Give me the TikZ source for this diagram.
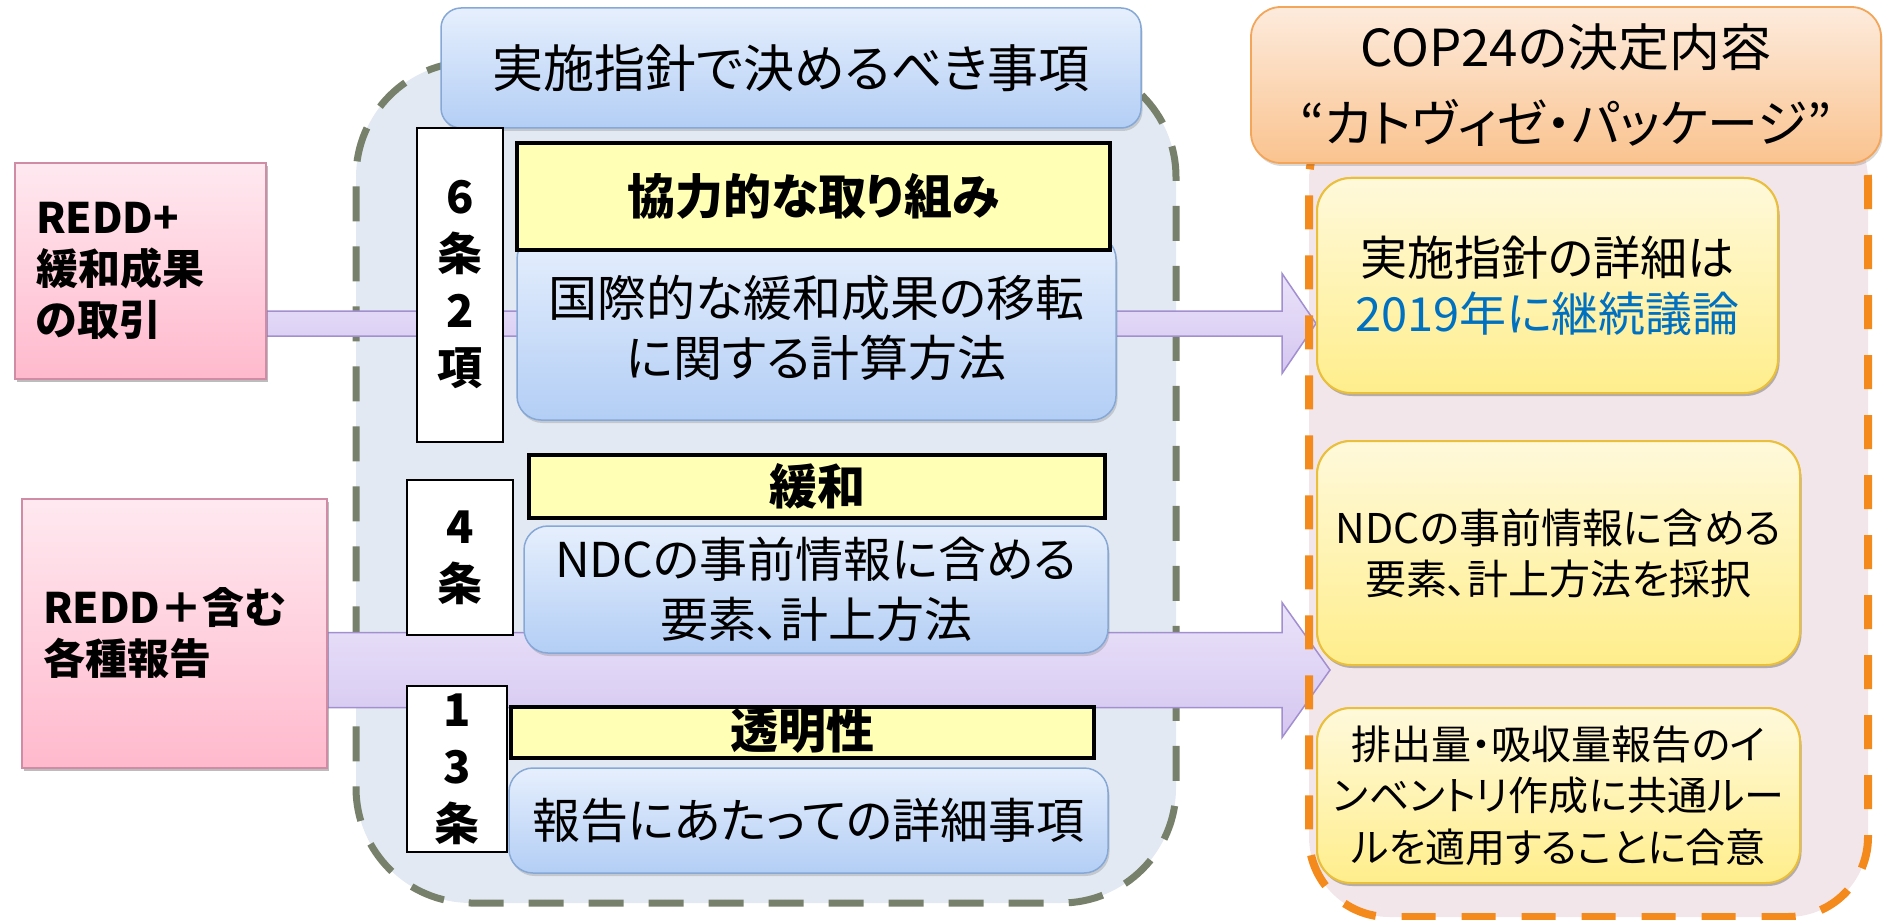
\documentclass[tikz,border=0pt]{standalone}
\usepackage{fontspec}
\usetikzlibrary{calc,shadows}
\newfontfamily\jp{Noto Sans CJK JP}[RawFeature=+palt]
\definecolor{pinkT}{HTML}{FFE9F0}
\definecolor{pinkB}{HTML}{FFB9CD}
\definecolor{pinkBorder}{HTML}{D08BA5}
\definecolor{grayFill}{HTML}{E3E9F2}
\definecolor{grayDash}{HTML}{77806A}
\definecolor{orgFill}{HTML}{F3E6EB}
\definecolor{orgDash}{HTML}{F48A1C}
\definecolor{blueT}{HTML}{E6EFFD}
\definecolor{blueB}{HTML}{B3CEF5}
\definecolor{blueBorder}{HTML}{86A8D6}
\definecolor{headY}{HTML}{FFFFB5}
\definecolor{copT}{HTML}{FDEBDD}
\definecolor{copB}{HTML}{FAC38F}
\definecolor{copBorder}{HTML}{F3A55A}
\definecolor{resT}{HTML}{FFF9DB}
\definecolor{resB}{HTML}{FFEE8C}
\definecolor{resBorder}{HTML}{E9BF3C}
\definecolor{arrT}{HTML}{EAE3FA}
\definecolor{arrB}{HTML}{D5C6F0}
\definecolor{arrBorder}{HTML}{A28FD0}
\definecolor{blueText}{HTML}{0070C0}
\tikzset{
  box/.style={inner sep=0pt, align=center, text=black},
  softshadow/.style={drop shadow={shadow xshift=1.5pt, shadow yshift=-3pt, opacity=0.25, fill=black!60}},
  pinkbox/.style={box, draw=pinkBorder, line width=1.8, top color=pinkT, bottom color=pinkB, softshadow,
    align=left, font=\jp\bfseries\fontsize{42}{51}\selectfont},
  grayregion/.style={draw=grayDash, line width=7, dash pattern=on 35 off 25, fill=grayFill, rounded corners=115, inner sep=0pt},
  orgfill/.style={fill=orgFill, rounded corners=80, inner sep=0pt},
  orgborder/.style={draw=orgDash, line width=8, dash pattern=on 34 off 26, rounded corners=80, inner sep=0pt},
  bluebox/.style={box, draw=blueBorder, line width=1.5, rounded corners=24, top color=blueT, bottom color=blueB, softshadow,
    font=\jp\fontsize{48}{60}\selectfont},
  titlebox/.style={bluebox, rounded corners=20, font=\jp\fontsize{51}{60}\selectfont},
  headbox/.style={box, draw=black, line width=3.5, fill=headY, font=\jp\bfseries\fontsize{48}{50}\selectfont},
  numbox/.style={box, draw=black, line width=1.5, fill=white, font=\jp\bfseries\fontsize{45}{57}\selectfont},
  copbox/.style={box, draw=copBorder, line width=1.8, rounded corners=30, top color=copT, bottom color=copB, softshadow,
    font=\jp\fontsize{51}{76}\selectfont},
  resbox/.style={box, draw=resBorder, line width=2, rounded corners=34, top color=resT, bottom color=resB, softshadow},
  blockarrow/.style={draw=arrBorder, line width=1.5, top color=arrT, bottom color=arrB, line join=miter},
}
\begin{document}
\begin{tikzpicture}[x=1pt,y=-1pt]
\useasboundingbox (0,0) rectangle (1885,920);
% regions
\node[grayregion, minimum width=820, minimum height=841] (grp) at (766,482.5) {};
\node[orgfill, minimum width=559, minimum height=817] (org) at (1588.5,508.5) {};
% source and target boxes (first pass, to fix the arrow anchors)
\node[pinkbox, minimum width=251, minimum height=216, text width=209] (pA) at (140.5,271) {REDD+\\緩和成果\\の取引};
\node[pinkbox, minimum width=305, minimum height=269, text width=263] (pB) at (174.5,633.5) {REDD＋含む\\各種報告};
\node[resbox, minimum width=461, minimum height=215, font=\jp\fontsize{47}{56}\selectfont] (r1) at (1547.5,285.5)
  {実施指針の詳細は\\\textcolor{blueText}{2019年に継続議論}};
\node[resbox, minimum width=483, minimum height=224, font=\jp\fontsize{41}{51}\selectfont] (r2) at (1558.5,553)
  {NDCの事前情報に含める\\要素、計上方法を採択};
\node[resbox, minimum width=483, minimum height=175, font=\jp\fontsize{40}{51.5}\selectfont] (r3) at (1558.5,795.5)
  {排出量・吸収量報告のイ\\ンベントリ作成に共通ルー\\ルを適用することに合意};
% block arrows
\path (pA.east) ++(0,52.5) coordinate (aS);
\coordinate (aT) at (r1.west |- aS);
\draw[blockarrow] ($(aS)+(0,-12.5)$) -- ($(aT)+(-34,-12.5)$) -- ($(aT)+(-34,-50)$) -- (aT)
  -- ($(aT)+(-34,50)$) -- ($(aT)+(-34,12.5)$) -- ($(aS)+(0,12.5)$) -- cycle;
\path (pB.east) ++(0,36.5) coordinate (bS);
\path (r2.west |- bS) ++(14,0) coordinate (bT);
\draw[blockarrow] ($(bS)+(0,-37.5)$) -- ($(bT)+(-48,-37.5)$) -- ($(bT)+(-48,-67.5)$) -- (bT)
  -- ($(bT)+(-48,67.5)$) -- ($(bT)+(-48,37.5)$) -- ($(bS)+(0,37.5)$) -- cycle;
\node[orgborder, minimum width=559, minimum height=817] (orgb) at (1588.5,508.5) {};
% redraw pink boxes and result boxes above arrows
\node[pinkbox, minimum width=251, minimum height=216, text width=209] (pA2) at (pA) {REDD+\\緩和成果\\の取引};
\node[pinkbox, minimum width=305, minimum height=269, text width=263] (pB2) at (pB) {REDD＋含む\\各種報告};
\node[resbox, minimum width=461, minimum height=215, font=\jp\fontsize{47}{56}\selectfont] (r12) at (r1)
  {実施指針の詳細は\\\textcolor{blueText}{2019年に継続議論}};
\node[resbox, minimum width=483, minimum height=224, font=\jp\fontsize{41}{51}\selectfont] (r22) at (r2)
  {NDCの事前情報に含める\\要素、計上方法を採択};
\node[resbox, minimum width=483, minimum height=175, font=\jp\fontsize{40}{51.5}\selectfont] (r32) at (r3)
  {排出量・吸収量報告のイ\\ンベントリ作成に共通ルー\\ルを適用することに合意};
% titles
\node[titlebox, minimum width=700, minimum height=120] (ttl) at (791,68) {実施指針で決めるべき事項};
\node[copbox, minimum width=630, minimum height=156] (cop) at (1566,85) {COP24の決定内容\\“カトヴィゼ・パッケージ”};
% article labels
\node[numbox, minimum width=86, minimum height=314] (n1) at (460,285) {6\\条\\2\\項};
\node[numbox, minimum width=106, minimum height=155] (n2) at (460,557.5) {4\\条};
\node[numbox, minimum width=100, minimum height=166] (n3) at (457,769) {1\\3\\条};
% content boxes
\node[bluebox, minimum width=599, minimum height=185, font=\jp\fontsize{49}{60}\selectfont] (b1) at (816.5,327.5) {国際的な緩和成果の移転\\に関する計算方法};
\node[headbox, minimum width=593, minimum height=107] (h1) at (813.5,196.5) {協力的な取り組み};
\node[bluebox, minimum width=584, minimum height=127] (b2) at (816,589.5) {NDCの事前情報に含める\\要素、計上方法};
\node[headbox, minimum width=576, minimum height=63] (h2) at (817,486.5) {緩和};
\node[bluebox, minimum width=599, minimum height=105] (b3) at (808.5,820.5) {報告にあたっての詳細事項};
\node[headbox, minimum width=583, minimum height=51, text height=38, text depth=7] (h3) at (802.5,732.5) {透明性};
\end{tikzpicture}
\end{document}
